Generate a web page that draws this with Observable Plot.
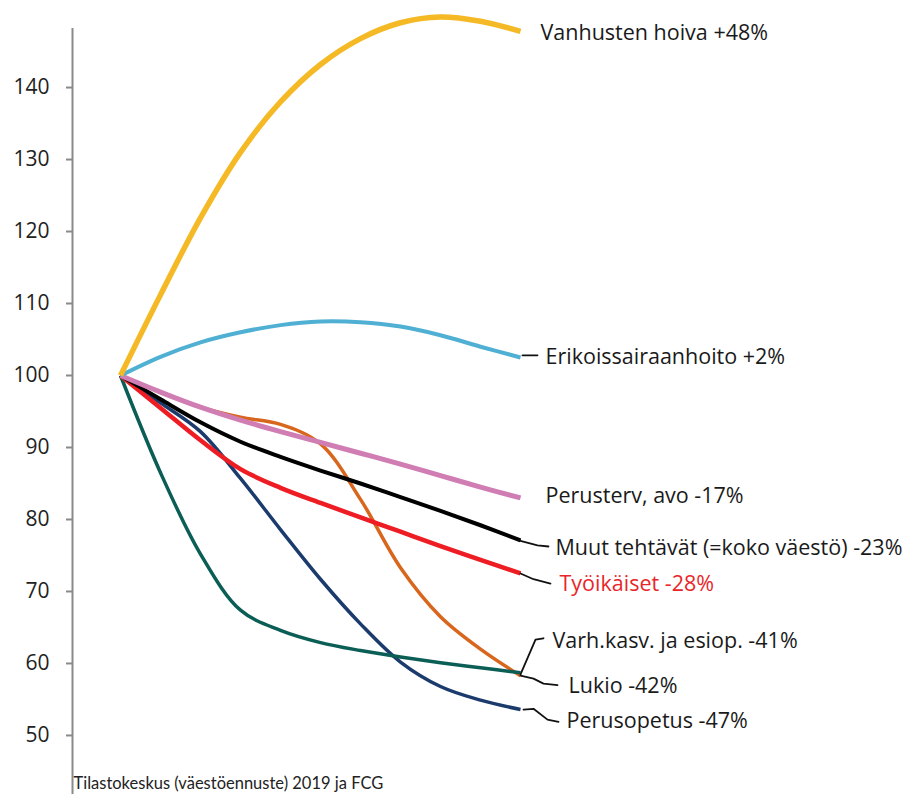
<!DOCTYPE html>
<html>
<head>
<meta charset="utf-8">
<script src="https://cdn.jsdelivr.net/npm/d3@7"></script>
<script src="https://cdn.jsdelivr.net/npm/@observablehq/plot@0.6"></script>
<style>
  html, body { margin: 0; padding: 0; background: #fff; }
  #chart { width: 919px; height: 794px; overflow: hidden; }
</style>
</head>
<body>
<div id="chart"></div>
<script>
// ---- data (index, 2019 = 100) ----
const years = [2020, 2022, 2024, 2026, 2028, 2030, 2032, 2034, 2036, 2038, 2040];

const vanhustenHoiva      = [100, 111.2, 121.9, 131.0, 138.0, 143.2, 146.8, 149.0, 149.8, 149.2, 147.8];
const erikoissairaanhoito = [100, 102.6, 104.6, 106.0, 107.0, 107.5, 107.4, 106.8, 105.6, 104.0, 102.5];
const perustervAvo        = [100, 97.7, 95.6, 93.8, 92.2, 90.7, 89.2, 87.7, 86.1, 84.5, 83.0];
const muutTehtavat        = [100, 96.7, 93.5, 90.8, 88.7, 86.8, 85.0, 83.1, 81.2, 79.2, 77.1];
const tyoikaiset          = [100, 95.5, 91.0, 87.0, 84.4, 82.3, 80.3, 78.3, 76.3, 74.4, 72.5];
const varhaiskasvatus     = [100, 86.5, 75.2, 67.4, 64.6, 62.9, 61.8, 60.9, 60.1, 59.4, 58.7];
const lukio               = [100, 97.7, 95.6, 94.2, 93.2, 90.5, 82.8, 73.3, 66.5, 62.0, 58.3];
const perusopetus         = [100, 96.2, 92.2, 85.7, 78.6, 71.7, 65.5, 60.2, 56.8, 54.9, 53.6];

const seriesNames  = ["Lukio", "Perusopetus", "Varhaiskasvatus", "Työikäiset", "Muut tehtävät", "Perusterv, avo", "Erikoissairaanhoito", "Vanhusten hoiva"];
const seriesValues = [lukio, perusopetus, varhaiskasvatus, tyoikaiset, muutTehtavat, perustervAvo, erikoissairaanhoito, vanhustenHoiva];
const seriesColors = ["#d8661c", "#1b3b6c", "#0b5e55", "#ee1d23", "#000000", "#d07db3", "#4fb0d4", "#f4b925"];
const seriesWidths = [3.5, 3.5, 3.5, 4.5, 4, 5, 4, 5.5];

// labels at the right
const labelTexts  = ["Vanhusten hoiva +48%", "Erikoissairaanhoito +2%", "Perusterv, avo -17%", "Muut tehtävät (=koko väestö) -23%", "Työikäiset -28%", "Varh.kasv. ja esiop. -41%", "Lukio -42%", "Perusopetus -47%"];
const labelYears  = [2041.0, 2041.25, 2041.25, 2041.75, 2041.95, 2041.6, 2042.4, 2042.3];
const labelValues = [147.6, 102.6, 83.2, 76.0, 71.0, 63.1, 56.9, 52.0];
const labelColors = ["#1a1a1a", "#1a1a1a", "#1a1a1a", "#1a1a1a", "#e8262a", "#1a1a1a", "#1a1a1a", "#1a1a1a"];

// leader lines (label id, year, value)
const leaderIds    = ["E","E", "M","M","M", "T","T","T", "V","V","V", "L","L","L","L", "P","P","P","P"];
const leaderYears  = [2040.1,2040.85, 2039.9,2040.85,2041.4, 2040.0,2040.65,2041.5, 2040.0,2040.75,2041.15, 2040.0,2040.65,2041.15,2041.85, 2040.15,2040.65,2041.35,2041.9];
const leaderValues = [102.8,102.8, 77.1,76.4,76.25, 72.5,71.7,71.1, 58.5,63.3,63.5, 58.3,57.9,57.2,57.0, 53.6,53.7,52.2,51.9];

const yTicks = [50, 60, 70, 80, 90, 100, 110, 120, 130, 140];
const caption = "Tilastokeskus (väestöennuste) 2019 ja FCG";

// ---- build tables ----
const rows = [];
seriesNames.forEach((name, i) => {
  years.forEach((yr, j) => rows.push({name, year: yr, value: seriesValues[i][j]}));
});
const labels = labelTexts.map((t, i) => ({text: t, year: labelYears[i], value: labelValues[i], color: labelColors[i]}));
const leaders = leaderIds.map((id, i) => ({id, year: leaderYears[i], value: leaderValues[i]}));

const xDomain = [2017.6, 2040];
const yDomain = [41.8, 148.2];

const marks = [
  Plot.ruleX([xDomain[0]], {y1: yDomain[1], y2: yDomain[0], stroke: "#8a8a8a", strokeWidth: 2}),
  Plot.axisY({ticks: yTicks, label: null, tickSize: 6, tickPadding: 17, stroke: "#8a8a8a", strokeWidth: 2, fill: "#222", fontSize: 21, fontFamily: "'Open Sans', sans-serif"})
];
seriesNames.forEach((name, i) => {
  marks.push(Plot.line(rows.filter(d => d.name === name), {
    x: "year", y: "value", stroke: seriesColors[i], strokeWidth: seriesWidths[i],
    curve: "catmull-rom", strokeLinecap: "butt"
  }));
});
marks.push(Plot.line(leaders, {x: "year", y: "value", z: "id", stroke: "#111", strokeWidth: 1.8}));
marks.push(Plot.text(labels, {x: "year", y: "value", text: "text", fill: "color", textAnchor: "start", fontSize: 21.5, fontFamily: "'Open Sans', sans-serif"}));
marks.push(Plot.text([caption], {frameAnchor: "bottom-left", dx: 1, dy: -6, textAnchor: "start", lineAnchor: "bottom", fontSize: 16.5, fill: "#222"}));

const chart = Plot.plot({
  width: 919,
  height: 794,
  marginTop: 28,
  marginBottom: 0,
  marginLeft: 72,
  marginRight: 0,
  style: {fontFamily: "Lato, 'Open Sans', sans-serif", background: "#fff", overflow: "visible"},
  x: {domain: xDomain, range: [72, 520], axis: null},
  y: {domain: yDomain, axis: null},
  marks
});
document.getElementById("chart").appendChild(chart);
</script>
</body>
</html>
